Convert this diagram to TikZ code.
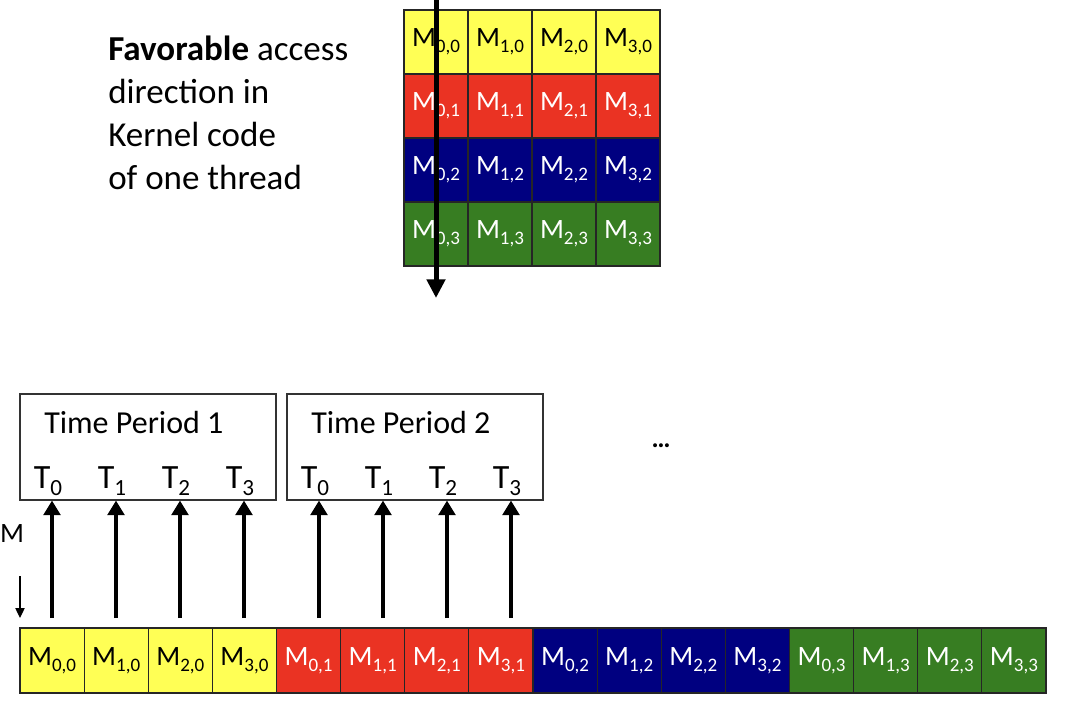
\documentclass[tikz,border=0pt]{standalone}
\usepackage{fontspec}
\setmainfont{Carlito}
\usetikzlibrary{arrows.meta}
\definecolor{cellyellow}{HTML}{FFFF55}
\definecolor{cellred}{HTML}{EA3323}
\definecolor{cellblue}{HTML}{000080}
\definecolor{cellgreen}{HTML}{377D22}
\newcommand{\ix}[1]{\raisebox{-0.23em}{\scalebox{0.68}{#1}}}
\tikzset{
  cell/.style={draw=black!85, line width=0.8pt, minimum width=48pt, minimum height=48pt, inner sep=0pt, font=\fontsize{21}{24}\selectfont},
  period/.style={draw=black!80, line width=0.8pt, minimum width=192pt, minimum height=79.5pt, inner sep=0pt},
  fat/.style={line width=3.3pt, -{Triangle[width=12.5pt,length=11pt]}},
}
\begin{document}
\begin{tikzpicture}[x=0.75pt, y=-0.75pt]
\useasboundingbox (0,0) rectangle (1070,708);

% matrix and its row-major layout
\foreach \j/\bg/\fg in {0/cellyellow/black,1/cellred/white,2/cellblue/white,3/cellgreen/white}{
  \foreach \i in {0,...,3}{
    \node[cell, fill=\bg, text=\fg] (m-\i-\j) at (436+64*\i, 42+64*\j) {M\ix{\i,\j}};
    \pgfmathtruncatemacro\k{4*\j+\i}
    \node[cell, minimum width=48.1pt, minimum height=48.75pt, fill=\bg, text=\fg] (s-\k) at (52.06+64.125*\k, 660.5) {M\ix{\i,\j}};
  }
}

\coordinate (top) at (436,-2);
\coordinate (bot) at (436,298);
\draw[line width=3.75pt, -{Triangle[width=13.5pt,length=14pt]}] (top) -- (bot);

\node[anchor=north west, inner sep=0pt, align=left, font=\fontsize{26.25}{32.25}\selectfont] (txt) at (108,36)
  {\textbf{Favorable} access\\direction in\\Kernel code\\of one thread};

% time periods
\node[period] (p1) at (148,447) {};
\node[period] (p2) at (415,447) {};
\node[anchor=west, inner sep=0pt, font=\fontsize{24}{28}\selectfont] (p1l) at (44,422) {Time Period 1};
\node[anchor=west, inner sep=0pt, font=\fontsize{24}{28}\selectfont] (p2l) at (311,422) {Time Period 2};

\foreach \k/\x in {0/52,1/116,2/180,3/244,4/319,5/383,6/447,7/511}{
  \pgfmathtruncatemacro\n{mod(\k,4)}
  \node[anchor=base, inner sep=0pt, font=\fontsize{25.5}{28}\selectfont] (t-\k) at (\x-4, 488) {T\ix{\n}};
  \coordinate (f-\k) at (\x,618);
  \draw[fat] (f-\k) -- (f-\k |- p1.south);
}

\node[anchor=base, inner sep=0pt, font=\fontsize{20}{24}\selectfont\bfseries] (dots) at (661,447) {…};

\node[inner sep=0pt, font=\fontsize{21}{24}\selectfont] (mlab) at (12,534) {M};
\coordinate (ma) at (20,576);
\coordinate (mb) at (20,618);
\draw[line width=0.9pt, -{Triangle[width=7pt,length=7.5pt]}] (ma) -- (mb);
\end{tikzpicture}
\end{document}
